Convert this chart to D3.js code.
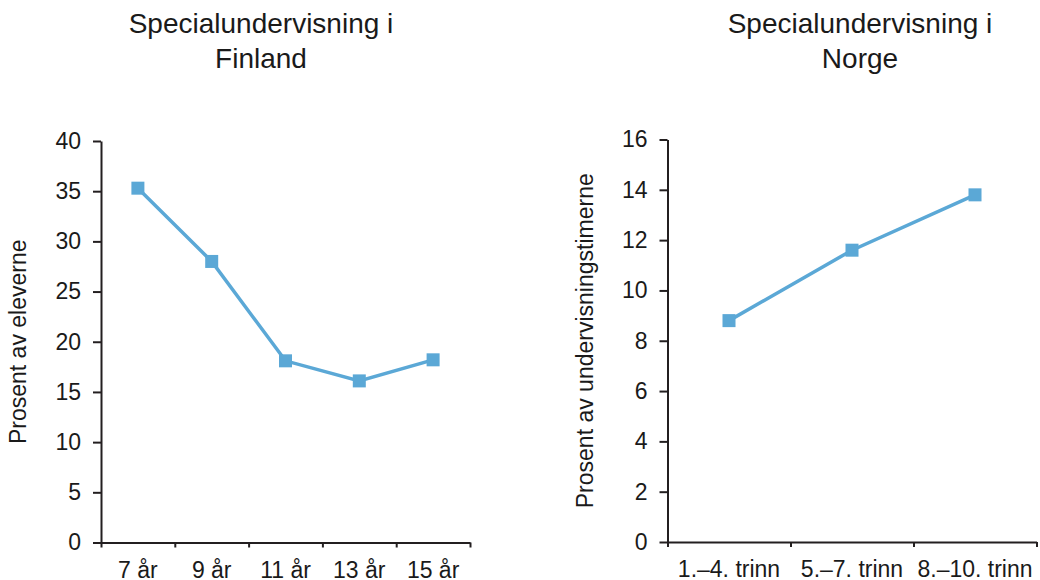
<!DOCTYPE html>
<html lang="no">
  <head>
    <meta charset="UTF-8" />
    <title>Specialundervisning i Finland og Norge</title>
    <script src="https://d3js.org/d3.v7.min.js"></script>
    <style>
      body {
        margin: 0;
        background: #fff;
      }
      svg text {
        font-family: "Liberation Sans", Arial, sans-serif;
        fill: #1a1a1a;
      }
      .axis path,
      .axis line {
        stroke: #231f20;
        stroke-width: 2;
      }
      .title {
        font-size: 28px;
      }
      .tick text {
        font-size: 23px;
      }
      .ylabel {
        font-size: 23px;
      }
    </style>
  </head>
  <body>
    <svg width="1040" height="580"></svg>
    <script>
      // Finland: percent of pupils
      var finlandAges = ["7 år", "9 år", "11 år", "13 år", "15 år"];
      var finlandValues = [35.3, 28.0, 18.1, 16.1, 18.2];
      var finlandTicks = [0, 5, 10, 15, 20, 25, 30, 35, 40];

      // Norway: percent of teaching hours
      var norgeSteps = ["1.–4. trinn", "5.–7. trinn", "8.–10. trinn"];
      var norgeValues = [8.8, 11.6, 13.8];
      var norgeTicks = [0, 2, 4, 6, 8, 10, 12, 14, 16];

      var svg = d3.select("svg");
      var lineColor = "#5ba8d6";

      function drawPanel(opts) {
        var g = svg.append("g");

        // title, two lines
        var title = g
          .append("text")
          .attr("class", "title")
          .attr("text-anchor", "middle")
          .attr("x", opts.titleX)
          .attr("y", 33);
        opts.title.forEach(function (t, i) {
          title
            .append("tspan")
            .attr("x", opts.titleX)
            .attr("dy", i === 0 ? 0 : 35)
            .text(t);
        });

        var y = d3
          .scaleLinear()
          .domain([0, opts.yMax])
          .range([opts.bottom, opts.top]);

        var x = d3
          .scaleBand()
          .domain(opts.categories)
          .range([opts.left, opts.right])
          .padding(0);

        // edges between categories get the tick marks
        var xEdge = d3
          .scaleLinear()
          .domain([0, opts.categories.length])
          .range([opts.left, opts.right]);

        g.append("g")
          .attr("class", "axis")
          .attr("transform", "translate(0," + opts.bottom + ")")
          .call(
            d3
              .axisBottom(xEdge)
              .tickValues(d3.range(opts.categories.length + 1))
              .tickSize(5)
              .tickSizeOuter(0)
              .tickFormat("")
          );

        // category labels, centred in each band
        g.append("g")
          .attr("class", "axis")
          .attr("transform", "translate(0," + opts.bottom + ")")
          .call(d3.axisBottom(x).tickSize(0).tickPadding(19))
          .call(function (a) {
            a.select(".domain").remove();
          });

        g.append("g")
          .attr("class", "axis")
          .attr("transform", "translate(" + opts.left + ",0)")
          .call(
            d3
              .axisLeft(y)
              .tickValues(opts.yTicks)
              .tickSize(8)
              .tickSizeOuter(0)
              .tickPadding(12)
          );

        g.append("text")
          .attr("class", "ylabel")
          .attr("text-anchor", "middle")
          .attr(
            "transform",
            "translate(" + opts.labelX + "," + (opts.top + opts.bottom) / 2 + ") rotate(-90)"
          )
          .text(opts.yLabel);

        var data = opts.categories.map(function (c, i) {
          return { cat: c, value: opts.values[i] };
        });

        var line = d3
          .line()
          .x(function (d) {
            return x(d.cat) + x.bandwidth() / 2;
          })
          .y(function (d) {
            return y(d.value);
          });

        g.append("path")
          .datum(data)
          .attr("fill", "none")
          .attr("stroke", lineColor)
          .attr("stroke-width", 3.5)
          .attr("d", line);

        var size = 13;
        g.selectAll("rect.marker")
          .data(data)
          .enter()
          .append("rect")
          .attr("class", "marker")
          .attr("x", function (d) {
            return x(d.cat) + x.bandwidth() / 2 - size / 2;
          })
          .attr("y", function (d) {
            return y(d.value) - size / 2;
          })
          .attr("width", size)
          .attr("height", size)
          .attr("fill", lineColor);
      }

      drawPanel({
        title: ["Specialundervisning i", "Finland"],
        titleX: 261,
        categories: finlandAges,
        values: finlandValues,
        yMax: 40,
        yTicks: finlandTicks,
        yLabel: "Prosent av eleverne",
        left: 101,
        right: 470,
        top: 141,
        bottom: 542.5,
        labelX: 26
      });

      drawPanel({
        title: ["Specialundervisning i", "Norge"],
        titleX: 860,
        categories: norgeSteps,
        values: norgeValues,
        yMax: 16,
        yTicks: norgeTicks,
        yLabel: "Prosent av undervisningstimerne",
        left: 667.5,
        right: 1036.5,
        top: 139.5,
        bottom: 542,
        labelX: 593
      });
    </script>
  </body>
</html>
